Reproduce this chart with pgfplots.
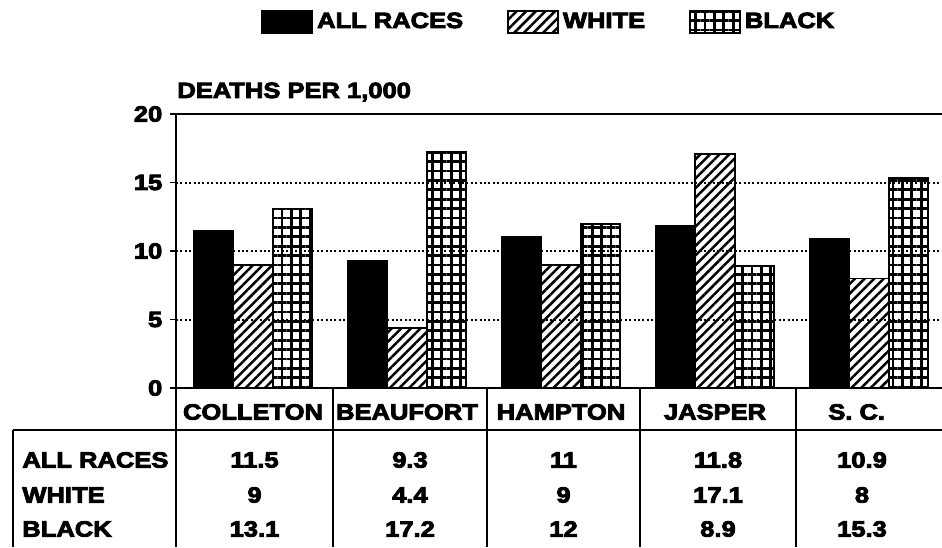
\documentclass[border=0pt]{standalone}
\usepackage{fontspec}
\setmainfont{Liberation Sans}[Scale=1.1, FakeStretch=1.16, BoldFeatures={FakeStretch=1.16, FakeBold=4}]
\usepackage{pgfplots}
\pgfplotsset{compat=1.18}
\usetikzlibrary{patterns.meta}
\pgfplotsset{boxlegend/.style={legend image code/.code={\draw[##1] (0pt,-5.5pt) rectangle (25pt,5.5pt);}}}

\begin{document}
\begin{tikzpicture}
\useasboundingbox (0,0) rectangle (471pt,273.5pt);
\begin{axis}[
  at={(88pt,79.5pt)}, anchor=south west,
  scale only axis, width=383pt, height=137pt,
  xmin=-0.5, xmax=4.474, ymin=0, ymax=20,
  ybar=0pt, bar width=19.65pt,
  axis x line*=box, axis y line*=left,
  x axis line style={-, line width=1.2pt},
  y axis line style={-, line width=1pt},
  xtick={0,1,2,3,3.92},
  xticklabels={COLLETON,BEAUFORT,HAMPTON,JASPER,S. C.},
  xtick style={draw=none},
  xtick pos=lower, xticklabel pos=lower,
  xticklabel style={font=\bfseries, anchor=center, yshift=-9pt},
  ytick={0,5,10,15,20},
  ytick pos=left, tick align=outside,
  major tick length=3pt,
  ytick style={line width=0.8pt, black},
  yticklabel style={font=\bfseries},
  /pgf/number format/assume math mode=true,
  ymajorgrids,
  grid style={line width=1pt, black, dash pattern=on 1pt off 1.2pt},
  legend style={at={(axis description cs:0.488,1.336)}, anchor=center,
    draw=none, fill=none, legend columns=3, font=\bfseries,
    /tikz/every even column/.append style={column sep=20pt}},
  legend cell align=left,
]
\addplot[draw=black, line width=0.9pt, fill=black, boxlegend]
  coordinates {(0,11.5) (1,9.3) (2,11) (3,11.8) (4,10.9)};
\addplot[draw=black, line width=0.9pt,
  pattern={Lines[angle=45,distance=3.4pt,line width=1.25pt]}, boxlegend]
  coordinates {(0,9) (1,4.4) (2,9) (3,17.1) (4,8)};
\addplot[draw=black, line width=0.9pt,
  pattern={Hatch[distance=4.7pt,line width=1.4pt]}, boxlegend]
  coordinates {(0,13.1) (1,17.2) (2,12) (3,8.9) (4,15.3)};
\legend{ALL RACES,WHITE,BLACK}
\end{axis}
\node[anchor=west, font=\bfseries, inner sep=0pt] at (88.5pt,227.5pt) {DEATHS PER 1,000};
\begin{scope}[x=0.5pt, y=-0.5pt, yshift=273.5pt, every node/.style={font=\bfseries}]
\draw[line width=1.4pt] (13,430) -- (942,430);
\draw[line width=1.4pt] (13,430) -- (13,547);
\draw[line width=1.4pt] (176,388) -- (176,547);
\foreach \x in {333,487,640,796} \draw[line width=1pt] (\x,388) -- (\x,547);
\node[anchor=west, inner sep=0pt] at (22,460) {ALL RACES};
\node[anchor=west, inner sep=0pt] at (22,495) {WHITE};
\node[anchor=west, inner sep=0pt] at (22,529) {BLACK};
\node at (254.5,460) {11.5}; \node at (410,460) {9.3}; \node at (563.5,460) {11}; \node at (718,460) {11.8}; \node at (862,460) {10.9};
\node at (254.5,495) {9}; \node at (410,495) {4.4}; \node at (563.5,495) {9}; \node at (718,495) {17.1}; \node at (862,495) {8};
\node at (254.5,529) {13.1}; \node at (410,529) {17.2}; \node at (563.5,529) {12}; \node at (718,529) {8.9}; \node at (862,529) {15.3};
\end{scope}
\end{tikzpicture}
\end{document}
